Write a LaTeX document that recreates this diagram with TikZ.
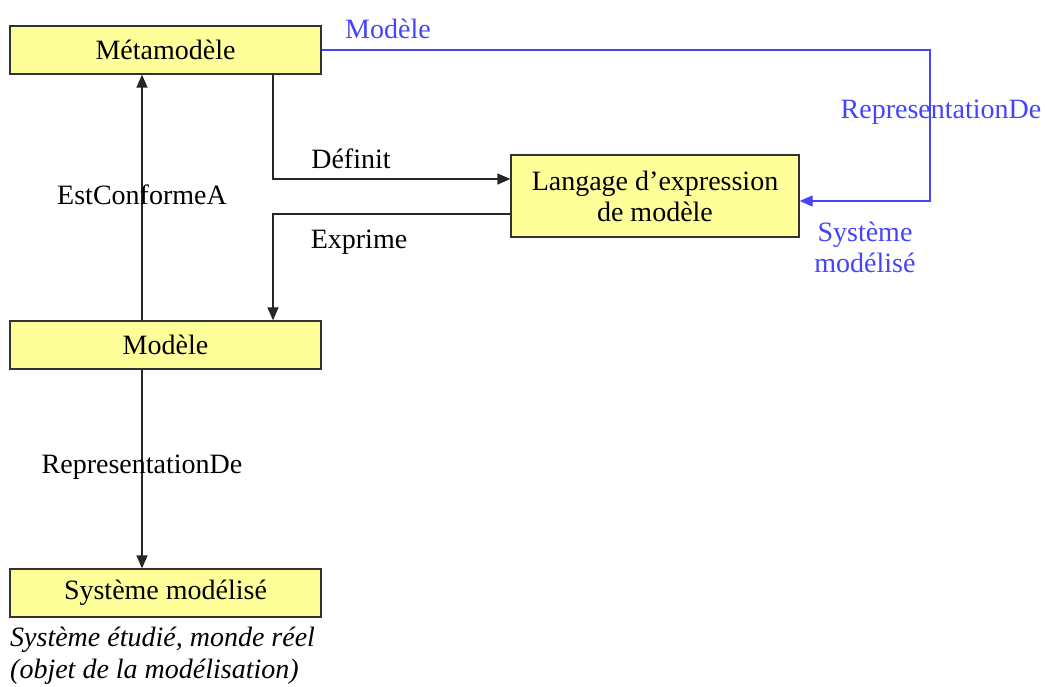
\documentclass[tikz,border=0pt]{standalone}
\usepackage{fontspec}
\setmainfont{Liberation Serif}
\usetikzlibrary{arrows.meta,calc}
\definecolor{boxfill}{RGB}{255,255,153}
\definecolor{linkblue}{RGB}{68,68,255}
\definecolor{boxline}{RGB}{50,50,50}
\begin{document}
\begin{tikzpicture}[x=1pt,y=-1pt,
  box/.style={draw=boxline,fill=boxfill,line width=1.3pt,inner sep=0pt,align=center,
    font=\fontsize{28}{31}\selectfont},
  lbl/.style={inner sep=0pt,font=\fontsize{28}{31}\selectfont,align=center},
  arr/.style={draw=black!85,line width=1.3pt,-{Triangle[length=13pt,width=11pt]}},
  barr/.style={draw=linkblue,line width=1.3pt,-{Triangle[length=13pt,width=11pt]}}]
\useasboundingbox (0,0) rectangle (1045,687);
% boxes
\node[box,minimum width=311pt,minimum height=48pt] (meta) at (165.5,50) {\raisebox{-2pt}{Métamodèle}};
\node[box,minimum width=288pt,minimum height=82pt] (lang) at (655,196) {Langage d’expression\\de modèle};
\node[box,minimum width=311pt,minimum height=48pt] (mod) at (165.5,345) {\raisebox{-2pt}{Modèle}};
\node[box,minimum width=311pt,minimum height=48pt] (sys) at (165.5,593) {\raisebox{-2pt}{Système modélisé}};
% helper coordinates
\coordinate (xA) at (142,0);
\coordinate (xB) at (273,0);
\coordinate (yDef) at (0,179);
\coordinate (yExp) at (0,214);
\coordinate (xBlue) at (930,0);
\coordinate (yBlue) at (0,201);
% connectors
\draw[arr] (mod.north -| xA) -- (meta.south -| xA);
\draw[arr] (meta.south -| xB) |- (lang.west |- yDef);
\draw[arr] (lang.west |- yExp) -| (mod.north -| xB);
\draw[arr] (mod.south -| xA) -- (sys.north -| xA);
\draw[barr] (meta.east) -- (meta.east -| xBlue) |- (lang.east |- yBlue);
% labels
\node[lbl] (lEst) at (142,195) {EstConformeA};
\node[lbl] (lDef) at (351,159) {Définit};
\node[lbl] (lExp) at (359,242) {Exprime};
\node[lbl] (lRep) at (142,467) {RepresentationDe};
\node[lbl,text=linkblue] (lMod) at (388,29) {Modèle};
\node[lbl,text=linkblue] (lRepB) at (941,112) {RepresentationDe};
\node[lbl,text=linkblue] (lSys) at (865,247) {Système\\modélisé};
\node[lbl,anchor=west,align=left,font=\fontsize{28}{32}\selectfont\itshape] (lObj) at (10,656) {Système étudié, monde réel\\(objet de la modélisation)};
\end{tikzpicture}
\end{document}
